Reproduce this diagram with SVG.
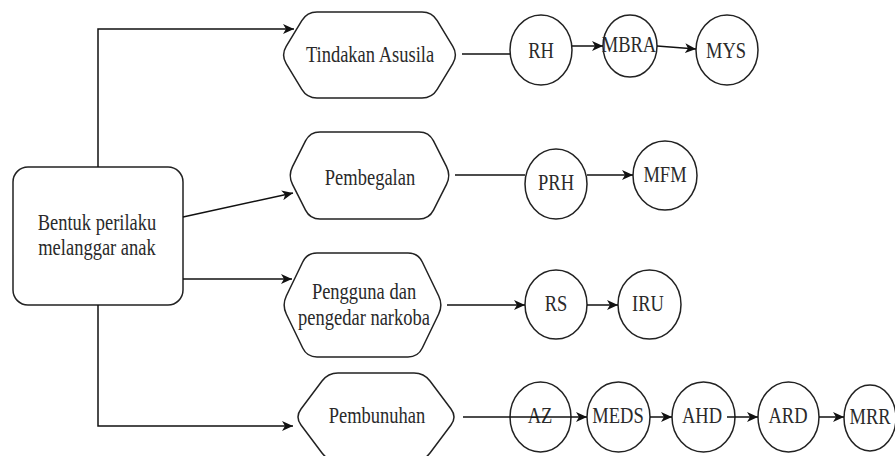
<svg xmlns="http://www.w3.org/2000/svg" width="895" height="456" viewBox="0 0 895 456">
  <style>
    .shape { fill: #fff; stroke: #222; stroke-width: 1.5; }
    .edge { fill: none; stroke: #111; stroke-width: 1.5; }
    .arr { marker-end: url(#arrow); }
    .lbl { font-size: 18.5px; fill: #2a2a2a; }
  </style>
  <defs>
    <marker id="arrow" markerUnits="userSpaceOnUse" markerWidth="11" markerHeight="10" viewBox="0 0 11 10" refX="11" refY="5" orient="auto">
      <path d="M0,0 L11,5 L0,10 L3,5 Z" fill="#111"/>
    </marker>
  </defs>
  <rect width="895" height="456" fill="#fff"/>

  <g font-family="Liberation Serif" text-anchor="middle">
  <!-- root node -->
  <g id="bentuk-perilaku">
    <rect class="shape" x="13" y="167" width="170" height="138" rx="15" ry="15"/>
    <text class="lbl" font-family="Liberation Serif" transform="matrix(1 0 0 1.2 97 230)">Bentuk perilaku</text>
    <text class="lbl" font-family="Liberation Serif" transform="matrix(1 0 0 1.2 97 255)">melanggar anak</text>
  </g>

  <!-- category hexagons -->
  <g id="tindakan-asusila">
    <path class="shape" d="M317 12 L422 12 Q432 12 437.2 20.6 L452.8 46.4 Q458 55 452.8 63.6 L437.2 89.4 Q432 98 422 98 L317 98 Q307 98 301.8 89.4 L286.2 63.6 Q281 55 286.2 46.4 L301.8 20.6 Q307 12 317 12 Z"/>
    <text class="lbl" font-family="Liberation Serif" transform="matrix(1 0 0 1.2 370 62)">Tindakan Asusila</text>
  </g>
  <g id="pembegalan">
    <path class="shape" d="M320 132 L419 132 Q429 132 433.5 140.9 L446.5 166.6 Q451 175.5 446.5 184.4 L433.5 210.1 Q429 219 419 219 L320 219 Q310 219 305.5 210.1 L292.5 184.4 Q288 175.5 292.5 166.6 L305.5 140.9 Q310 132 320 132 Z"/>
    <text class="lbl" font-family="Liberation Serif" transform="matrix(1 0 0 1.2 370 185)">Pembegalan</text>
  </g>
  <g id="narkoba">
    <path class="shape" d="M317 253 L408 253 Q418 253 422.3 262 L438.7 296 Q443 305 438.7 314 L422.3 348 Q418 357 408 357 L317 357 Q307 357 302.7 348 L286.3 314 Q282 305 286.3 296 L302.7 262 Q307 253 317 253 Z"/>
    <text class="lbl" font-family="Liberation Serif" transform="matrix(1 0 0 1.2 364 299)">Pengguna dan</text>
    <text class="lbl" font-family="Liberation Serif" transform="matrix(1 0 0 1.2 364 325)">pengedar narkoba</text>
  </g>
  <g id="pembunuhan">
    <path class="shape" d="M338 373 L414 373 Q424 373 430 381 L451 409 Q457 417 451 425 L430 453 Q424 461 414 461 L338 461 Q328 461 322 453 L301 425 Q295 417 301 409 L322 381 Q328 373 338 373 Z"/>
    <text class="lbl" font-family="Liberation Serif" transform="matrix(1 0 0 1.2 377 423)">Pembunuhan</text>
  </g>

  <!-- case nodes -->
  <g id="rh"><ellipse class="shape" cx="541" cy="50" rx="31" ry="35"/><text class="lbl" font-family="Liberation Serif" transform="matrix(1 0 0 1.2 541 58)">RH</text></g>
  <g id="mbra"><ellipse class="shape" cx="630" cy="46" rx="27" ry="31"/><text class="lbl" font-family="Liberation Serif" transform="matrix(1 0 0 1.2 629 52)">MBRA</text></g>
  <g id="mys"><ellipse class="shape" cx="727" cy="50" rx="31" ry="35"/><text class="lbl" font-family="Liberation Serif" transform="matrix(1 0 0 1.2 726 58)">MYS</text></g>

  <g id="prh"><ellipse class="shape" cx="556" cy="184" rx="31" ry="35"/><text class="lbl" font-family="Liberation Serif" transform="matrix(1 0 0 1.2 556 190)">PRH</text></g>
  <g id="mfm"><ellipse class="shape" cx="665" cy="175.5" rx="32" ry="34.5"/><text class="lbl" font-family="Liberation Serif" transform="matrix(1 0 0 1.2 665 182)">MFM</text></g>

  <g id="rs"><ellipse class="shape" cx="556" cy="304.5" rx="31" ry="34.5"/><text class="lbl" font-family="Liberation Serif" transform="matrix(1 0 0 1.2 556 311)">RS</text></g>
  <g id="iru"><ellipse class="shape" cx="649.5" cy="304.5" rx="31.5" ry="34.5"/><text class="lbl" font-family="Liberation Serif" transform="matrix(1 0 0 1.2 648 311)">IRU</text></g>

  <g id="az"><ellipse class="shape" cx="540.5" cy="417" rx="30.5" ry="35"/><text class="lbl" font-family="Liberation Serif" transform="matrix(1 0 0 1.2 540 423)">AZ</text></g>
  <g id="meds"><ellipse class="shape" cx="618.5" cy="417" rx="31.5" ry="35"/><text class="lbl" font-family="Liberation Serif" transform="matrix(1 0 0 1.2 618 423)">MEDS</text></g>
  <g id="ahd"><ellipse class="shape" cx="703.5" cy="417" rx="31.5" ry="35"/><text class="lbl" font-family="Liberation Serif" transform="matrix(1 0 0 1.2 702 423)">AHD</text></g>
  <g id="ard"><ellipse class="shape" cx="788.5" cy="417" rx="30.5" ry="35"/><text class="lbl" font-family="Liberation Serif" transform="matrix(1 0 0 1.2 788 423)">ARD</text></g>
  <g id="mrr"><ellipse class="shape" cx="870" cy="418" rx="26" ry="33"/><text class="lbl" font-family="Liberation Serif" transform="matrix(1 0 0 1.2 870 424)">MRR</text></g>
  </g>

  <!-- connectors -->
  <g id="connectors">
    <path class="edge arr" d="M98 167 V29 H294"/>
    <path class="edge arr" d="M183 217 L293 193"/>
    <path class="edge arr" d="M183 279 H292"/>
    <path class="edge arr" d="M98 305 V426 H293"/>

    <path class="edge" d="M462 54 H510"/>
    <path class="edge arr" d="M572 46 H603"/>
    <path class="edge arr" d="M657 46 L696 49"/>

    <path class="edge" d="M455 175 H525"/>
    <path class="edge arr" d="M587 175 H633"/>

    <path class="edge arr" d="M447 305 H525"/>
    <path class="edge arr" d="M587 305 H618"/>

    <path class="edge arr" d="M463 417 H587"/>
    <path class="edge arr" d="M650 417 H672"/>
    <path class="edge arr" d="M727 417 H758"/>
    <path class="edge arr" d="M819 417 H844"/>
  </g>
</svg>
